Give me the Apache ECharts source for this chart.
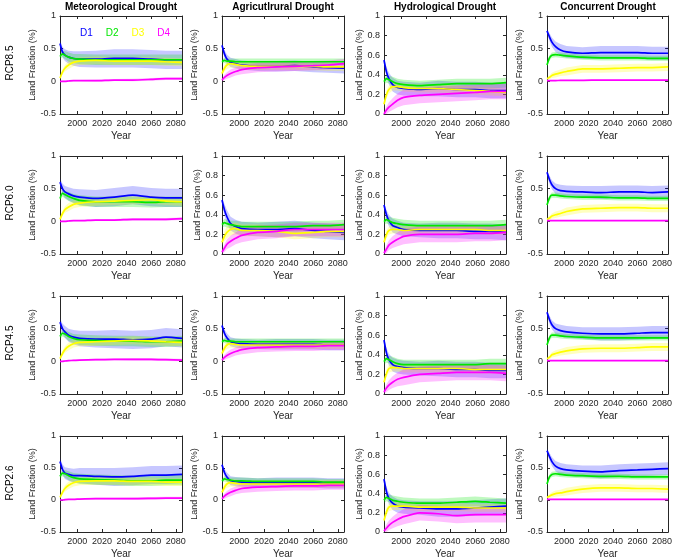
<!DOCTYPE html>
<html>
<head>
<meta charset="utf-8">
<script src="https://cdn.jsdelivr.net/npm/echarts@6/dist/echarts.min.js"></script>
<style>
html, body { margin: 0; padding: 0; background: #fff; }
#chart { width: 675px; height: 560px; }
</style>
</head>
<body>
<div id="chart"></div>
<script>
const years = [1986, 1988, 1990, 1993, 1997, 2002, 2015, 2030, 2045, 2060, 2072, 2085]
const xTicks = [2000, 2020, 2040, 2060, 2080]
const droughtTypes = ['Meteorological Drought', 'Agricutlrural Drought', 'Hydrological Drought', 'Concurrent Drought']
const scenarios = ['RCP8.5', 'RCP6.0', 'RCP4.5', 'RCP2.6']
const classes = ['D1', 'D2', 'D3', 'D4']
const lineColors = ['#0000ff', '#00e600', '#ffff00', '#ff00ff']

// mean land fraction per panel, one row per class D1..D4
const met85 = [
  [.58, .45, .40, .37, .35, .34, .34, .35, .35, .34, .33, .33],
  [.38, .42, .40, .37, .35, .34, .33, .33, .33, .33, .33, .33],
  [.05, .14, .20, .25, .29, .31, .32, .31, .31, .31, .30, .29],
  [0, 0, 0, .005, .01, .01, .01, .02, .02, .03, .04, .04]
]
const agr85 = [
  [.55, .42, .34, .29, .27, .25, .23, .23, .24, .22, .21, .20],
  [.30, .32, .31, .31, .30, .30, .30, .30, .30, .30, .30, .30],
  [.12, .20, .25, .27, .26, .24, .23, .23, .23, .23, .22, .22],
  [.02, .06, .09, .12, .15, .18, .21, .22, .23, .24, .25, .27]
]
const hyd85 = [
  [.55, .43, .36, .30, .27, .26, .25, .26, .25, .25, .24, .24],
  [.33, .36, .35, .33, .31, .30, .29, .30, .31, .31, .31, .32],
  [.10, .20, .25, .28, .28, .27, .26, .26, .25, .24, .23, .22],
  [0, .04, .07, .10, .14, .17, .19, .20, .21, .22, .23, .23]
]
const con85 = [
  [.77, .68, .60, .53, .48, .45, .43, .44, .44, .44, .43, .43],
  [.25, .36, .40, .41, .40, .39, .37, .36, .36, .36, .35, .35],
  [.04, .06, .09, .11, .13, .15, .19, .19, .20, .21, .21, .22],
  [.01, .01, .01, .01, .015, .015, .015, .02, .02, .02, .02, .02]
]

const met60 = [
  [.60, .50, .45, .42, .39, .37, .35, .37, .40, .37, .36, .36],
  [.35, .43, .41, .38, .35, .32, .30, .30, .30, .29, .30, .30],
  [.03, .12, .18, .22, .26, .28, .30, .31, .32, .33, .31, .30],
  [0, 0, 0, .005, .01, .01, .02, .02, .03, .03, .03, .04]
]
const agr60 = [
  [.55, .45, .38, .31, .28, .26, .25, .25, .26, .24, .23, .22],
  [.30, .32, .31, .30, .29, .28, .28, .28, .28, .29, .29, .30],
  [.12, .18, .22, .25, .26, .24, .24, .23, .21, .22, .23, .23],
  [.02, .06, .10, .13, .16, .19, .22, .23, .25, .25, .25, .25]
]
const hyd60 = [
  [.50, .40, .34, .29, .27, .25, .24, .24, .24, .23, .23, .22],
  [.33, .35, .34, .32, .31, .30, .29, .29, .29, .29, .29, .30],
  [.12, .20, .24, .25, .25, .24, .25, .25, .25, .25, .24, .24],
  [.01, .05, .09, .12, .15, .18, .20, .20, .20, .21, .21, .22]
]
const con60 = [
  [.75, .64, .56, .50, .47, .46, .45, .44, .45, .45, .44, .45],
  [.25, .36, .40, .40, .39, .38, .37, .37, .36, .36, .35, .35],
  [.03, .05, .08, .10, .12, .15, .19, .20, .21, .21, .20, .20],
  [.01, .01, .01, .01, .01, .01, .01, .01, .01, .01, .01, .01]
]

const met45 = [
  [.60, .50, .45, .40, .37, .35, .34, .34, .33, .34, .37, .35],
  [.38, .43, .42, .38, .35, .33, .32, .31, .31, .30, .30, .31],
  [.04, .12, .18, .23, .27, .29, .30, .31, .32, .31, .30, .29],
  [0, 0, .005, .01, .015, .02, .025, .03, .03, .03, .025, .02]
]
const agr45 = [
  [.55, .43, .36, .30, .28, .27, .26, .26, .26, .26, .25, .25],
  [.30, .32, .31, .31, .30, .30, .30, .30, .30, .30, .30, .30],
  [.12, .20, .25, .27, .26, .25, .25, .25, .25, .25, .25, .25],
  [.02, .06, .09, .12, .15, .18, .21, .22, .23, .23, .24, .24]
]
const hyd45 = [
  [.55, .42, .35, .30, .28, .27, .26, .26, .25, .25, .24, .24],
  [.33, .36, .35, .33, .31, .30, .30, .30, .30, .30, .31, .31],
  [.12, .21, .26, .27, .27, .26, .26, .26, .26, .25, .25, .25],
  [.02, .06, .09, .12, .15, .17, .20, .21, .22, .22, .22, .21]
]
const con45 = [
  [.75, .64, .56, .50, .47, .45, .43, .42, .42, .43, .44, .44],
  [.25, .36, .40, .40, .39, .38, .37, .36, .36, .36, .36, .36],
  [.04, .06, .10, .12, .14, .16, .19, .20, .20, .21, .22, .22],
  [.01, .01, .01, .01, .01, .01, .01, .01, .01, .01, .01, .01]
]

const met26 = [
  [.60, .48, .42, .40, .38, .38, .37, .36, .37, .39, .39, .40],
  [.37, .42, .41, .38, .35, .33, .32, .31, .30, .30, .31, .31],
  [.04, .12, .18, .23, .27, .29, .30, .30, .29, .29, .28, .28],
  [0, 0, .005, .01, .01, .015, .02, .02, .02, .025, .03, .03]
]
const agr26 = [
  [.55, .43, .36, .30, .29, .28, .27, .27, .27, .27, .26, .26],
  [.30, .33, .32, .31, .30, .30, .29, .29, .29, .29, .28, .28],
  [.12, .20, .25, .27, .26, .25, .25, .25, .25, .25, .25, .25],
  [.02, .06, .09, .12, .15, .18, .20, .21, .22, .22, .23, .23]
]
const hyd26 = [
  [.55, .42, .35, .30, .27, .26, .25, .24, .24, .25, .26, .27],
  [.33, .36, .35, .33, .32, .31, .30, .30, .31, .32, .31, .30],
  [.12, .21, .26, .27, .27, .27, .26, .26, .26, .25, .25, .25],
  [.01, .04, .07, .10, .13, .16, .20, .19, .17, .18, .18, .18]
]
const con26 = [
  [.77, .68, .60, .53, .49, .47, .45, .44, .46, .47, .48, .49],
  [.25, .36, .40, .41, .40, .39, .38, .37, .37, .36, .36, .36],
  [.04, .06, .08, .10, .11, .13, .17, .19, .19, .18, .18, .17],
  [.01, .01, .01, .01, .01, .01, .01, .01, .01, .01, .01, .01]
]

// half width of the shaded spread band, per drought type
const metSpread = [
  [.06, .08, .09, .10, .11, .12, .13, .14, .14, .14, .14, .14],
  [.04, .05, .06, .07, .07, .08, .08, .08, .08, .08, .08, .08],
  [.02, .04, .05, .06, .06, .06, .06, .06, .06, .06, .06, .06],
  [.005, .01, .01, .01, .01, .01, .015, .015, .02, .02, .02, .02]
]
const agrSpread = [
  [.04, .06, .07, .07, .07, .07, .07, .08, .08, .08, .08, .08],
  [.03, .04, .04, .04, .05, .05, .05, .05, .05, .05, .05, .05],
  [.03, .05, .06, .06, .06, .06, .06, .06, .06, .06, .06, .06],
  [.02, .04, .05, .06, .06, .07, .07, .07, .07, .07, .07, .07]
]
const hydSpread = [
  [.03, .05, .06, .07, .07, .07, .07, .08, .08, .08, .08, .08],
  [.03, .04, .04, .05, .05, .05, .05, .05, .05, .05, .05, .05],
  [.03, .04, .04, .04, .04, .04, .04, .04, .04, .04, .04, .04],
  [.02, .04, .05, .06, .07, .08, .08, .08, .08, .08, .08, .08]
]
const conSpread = [
  [.04, .06, .07, .08, .09, .09, .09, .10, .10, .10, .10, .10],
  [.03, .04, .04, .04, .04, .04, .04, .04, .04, .04, .04, .04],
  [.02, .03, .04, .05, .05, .06, .06, .06, .06, .06, .06, .06],
  [.005, .005, .005, .005, .005, .005, .005, .005, .005, .005, .005, .005]
]

const panels = [
  [met85, agr85, hyd85, con85],
  [met60, agr60, hyd60, con60],
  [met45, agr45, hyd45, con45],
  [met26, agr26, hyd26, con26]
]
const spreads = [metSpread, agrSpread, hydSpread, conSpread]
const yMins = [
  [-0.5, -0.5, 0, -0.5],
  [-0.5, 0, 0, -0.5],
  [-0.5, -0.5, 0, -0.5],
  [-0.5, -0.5, 0, -0.5]
]

const colLeft = [60, 222, 384, 547]
const rowTop = [16, 156, 296, 436]
const W = 122
const H = 98
const axisColor = '#262626'
const font = 'Liberation Sans, Arial, sans-serif'

const grid = []
const xAxis = []
const yAxis = []
const series = []
const topAxes = []
const rightAxes = []

// shaded band drawn as one polygon through the axis scales
const bandItem = (color, opacity) => (params, api) => {
  if (params.dataIndex !== 0) return null
  const upper = years.map((y, i) => api.coord([y, api.value(2, i)]))
  const lower = years.map((y, i) => api.coord([y, api.value(1, i)])).reverse()
  return {
    type: 'polygon',
    shape: { points: upper.concat(lower) },
    style: { fill: color, opacity }
  }
}

scenarios.forEach((sc, r) => {
  droughtTypes.forEach((dt, c) => {
    const g = r * 4 + c
    const yMin = yMins[r][c]
    grid.push({ left: colLeft[c], top: rowTop[r], width: W, height: H })
    xAxis.push({
      gridIndex: g, type: 'value', min: 1986, max: 2085,
      name: 'Year', nameLocation: 'middle', nameGap: 17,
      nameTextStyle: { fontSize: 10, color: axisColor, fontFamily: font },
      axisLine: { show: true, onZero: false, lineStyle: { color: axisColor } },
      axisTick: { inside: true, length: 3, customValues: xTicks, lineStyle: { color: axisColor } },
      axisLabel: { customValues: xTicks, fontSize: 9, color: axisColor, margin: 5, fontFamily: font,
        formatter: v => String(v) },
      splitLine: { show: false }
    })
    topAxes.push({
      gridIndex: g, type: 'value', min: 1986, max: 2085, position: 'top',
      axisLine: { show: true, onZero: false, lineStyle: { color: axisColor } },
      axisTick: { inside: true, length: 3, customValues: xTicks, lineStyle: { color: axisColor } },
      axisLabel: { show: false }, splitLine: { show: false }
    })
    yAxis.push({
      gridIndex: g, type: 'value', min: yMin, max: 1, interval: yMin < 0 ? 0.5 : 0.2,
      name: 'Land Fraction (%)', nameLocation: 'middle', nameGap: yMin < 0 ? 19 : 12,
      nameTextStyle: { fontSize: 9, color: axisColor, fontFamily: font },
      axisLine: { show: true, onZero: false, lineStyle: { color: axisColor } },
      axisTick: { inside: true, length: 3, lineStyle: { color: axisColor } },
      axisLabel: { fontSize: 9, color: axisColor, margin: 4, fontFamily: font,
        formatter: v => String(parseFloat(v.toFixed(1))) },
      splitLine: { show: false }
    })
    rightAxes.push({
      gridIndex: g, type: 'value', min: yMin, max: 1, interval: yMin < 0 ? 0.5 : 0.2, position: 'right',
      axisLine: { show: true, onZero: false, lineStyle: { color: axisColor } },
      axisTick: { inside: true, length: 3, lineStyle: { color: axisColor } },
      axisLabel: { show: false }, splitLine: { show: false }
    })

    const means = panels[r][c]
    const spread = spreads[c]
    classes.forEach((cl, k) => {
      series.push({
        type: 'custom', xAxisIndex: g, yAxisIndex: g, silent: true, clip: true,
        data: years.map((y, i) => [y, means[k][i] - spread[k][i], means[k][i] + spread[k][i]]),
        encode: { x: 0, y: [1, 2] },
        renderItem: bandItem(lineColors[k], k === 0 ? 0.22 : 0.25)
      })
      series.push({
        name: cl, type: 'line', xAxisIndex: g, yAxisIndex: g,
        data: years.map((y, i) => [y, means[k][i]]),
        symbol: 'none', smooth: 0.2, silent: true,
        lineStyle: { color: lineColors[k], width: 1.7 },
        itemStyle: { color: lineColors[k] }
      })
    })
  })
})

const graphic = []
droughtTypes.forEach((dt, c) => {
  graphic.push({
    type: 'text', x: colLeft[c] + W / 2, y: 7,
    style: { text: dt, font: 'bold 10px ' + font, fill: '#000', textAlign: 'center', textVerticalAlign: 'middle' }
  })
})
scenarios.forEach((sc, r) => {
  graphic.push({
    type: 'text', x: 10, y: rowTop[r] + H / 2 - 2, rotation: Math.PI / 2,
    style: { text: sc, font: '10px ' + font, fill: '#000', textAlign: 'center', textVerticalAlign: 'middle' }
  })
})

const chart = echarts.init(document.getElementById('chart'))
chart.setOption({
  animation: false,
  backgroundColor: '#fff',
  grid,
  xAxis: xAxis.concat(topAxes),
  yAxis: yAxis.concat(rightAxes),
  legend: {
    data: classes.map((cl, k) => ({ name: cl, textStyle: { color: lineColors[k] } })),
    icon: 'none', itemWidth: 0, itemGap: 8, left: 75, top: 26, padding: 0,
    selectedMode: false,
    textStyle: { fontSize: 10, fontFamily: font }
  },
  graphic,
  series
})
</script>
</body>
</html>
